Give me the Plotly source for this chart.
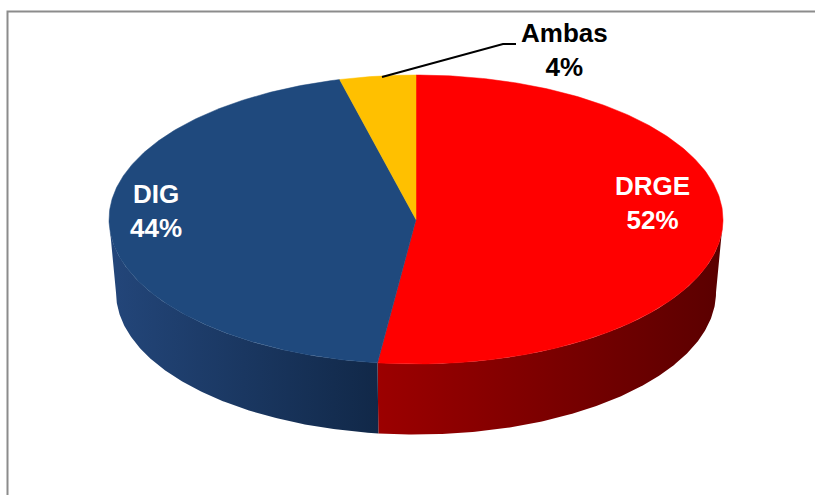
import numpy as np
import plotly.graph_objects as go

# ---- data ----
categories = ["DRGE", "DIG", "Ambas"]
values = [52, 44, 4]

# ---- styles ----
top_colors = ["#FF0000", "#1F497D", "#FFC000"]
side_colors = [["#9C0000", "#5A0000"], ["#23467A", "#112848"], ["#C09000", "#806000"]]
label_colors = ["white", "white", "black"]
label_pos = [(652, 203), (156, 211), (564, 50)]

# geometry of the 3D pie (pixel-like coordinate space)
CX, CY, A, B = 416, 219.5, 307, 144.5
CY2, A2, B2 = 292.5, 300, 142


def top_pt(phi):
    return CX + A * np.sin(phi), CY - B * np.cos(phi)


def bot_pt(phi):
    return CX + A2 * np.sin(phi), CY2 - B2 * np.cos(phi)


total = float(sum(values))
fracs = [v / total for v in values]
starts = np.concatenate([[0], np.cumsum(fracs)[:-1]]) * 2 * np.pi
ends = np.cumsum(fracs) * 2 * np.pi

fig = go.Figure()

# side walls (front half only)
for i, (s, e) in enumerate(zip(starts, ends)):
    s2, e2 = max(s, np.pi / 2), min(e, 3 * np.pi / 2)
    if s2 >= e2:
        continue
    ph = np.linspace(s2, e2, 200)
    tx, ty = top_pt(ph)
    bx, by = bot_pt(ph[::-1])
    xs = np.concatenate([tx, bx, tx[:1]])
    ys = np.concatenate([ty, by, ty[:1]])
    fig.add_trace(go.Scatter(
        x=xs, y=ys, mode="lines", line=dict(width=0), fill="toself",
        fillgradient=dict(type="horizontal",
                          colorscale=[[0, side_colors[i][0]], [1, side_colors[i][1]]]),
        hoverinfo="skip", showlegend=False))

# top faces
for i, (s, e) in enumerate(zip(starts, ends)):
    ph = np.linspace(s, e, 300)
    tx, ty = top_pt(ph)
    xs = np.concatenate([[CX], tx, [CX]])
    ys = np.concatenate([[CY], ty, [CY]])
    fig.add_trace(go.Scatter(
        x=xs, y=ys, mode="lines", line=dict(width=0.5, color=top_colors[i]),
        fill="toself", fillcolor=top_colors[i],
        hoverinfo="skip", showlegend=False))

# labels
for i, cat in enumerate(categories):
    fig.add_annotation(
        x=label_pos[i][0], y=label_pos[i][1], xref="x", yref="y",
        text=f"<b>{cat}<br>{values[i]}%</b>", showarrow=False,
        font=dict(family="Arial, Liberation Sans, sans-serif", size=26,
                  color=label_colors[i]),
        align="center", xanchor="center", yanchor="middle")

# leader line for Ambas
fig.add_shape(type="path", xref="x", yref="y",
              path="M 382 77 L 503 44 L 516 44",
              line=dict(color="black", width=2))

# chart border
fig.add_shape(type="rect", xref="x", yref="y", x0=7.5, y0=11.5, x1=830, y1=510,
              line=dict(color="#8C8C8C", width=2), fillcolor="rgba(0,0,0,0)",
              layer="below")

fig.update_layout(
    width=815, height=495,
    margin=dict(l=0, r=0, t=0, b=0),
    paper_bgcolor="white", plot_bgcolor="white",
    showlegend=False,
    xaxis=dict(range=[0, 815], visible=False, fixedrange=True),
    yaxis=dict(range=[495, 0], visible=False, fixedrange=True),
)

fig.write_html("out.html", config={"displayModeBar": False},
               post_script="document.body.style.margin='0';document.body.style.overflow='hidden';")
